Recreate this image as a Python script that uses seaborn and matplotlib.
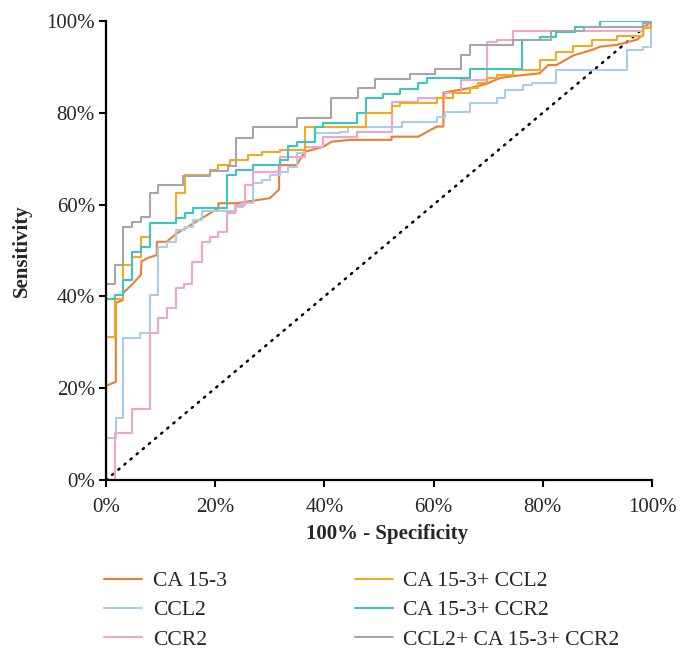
import numpy as np
import pandas as pd
import matplotlib
matplotlib.use("Agg")
import matplotlib.pyplot as plt
import seaborn as sns

# ROC curves, values in % (x = 100% - specificity, y = sensitivity)
# CA 15-3 is drawn vertex to vertex, the others as step curves (steps-post)
ca153_x = [0, 0, 1.8, 1.8, 3.1, 3.1, 4.7, 6.4, 6.5, 7.7, 9.3, 9.3, 11.1, 12.9, 14.5, 16.0, 17.2, 20.6,
           20.6, 23.9, 30.0, 31.7, 31.7, 34.9, 36.4, 39.8, 41.3, 44.7, 52.3, 52.3, 57.2, 60.6, 61.8,
           61.8, 66.7, 69.7, 72.2, 74.6, 79.4, 81.0, 82.5, 85.6, 89.0, 90.5, 93.5, 97.2, 98.4, 98.4, 100]
ca153_y = [0, 20.5, 21.4, 38.6, 39.2, 40.7, 42.5, 44.7, 47.6, 48.4, 49.0, 51.9, 51.9, 53.7, 54.8, 55.9,
           56.8, 59.2, 60.3, 60.3, 61.4, 63.3, 68.6, 68.6, 71.5, 72.6, 73.7, 74.1, 74.1, 74.8, 74.8,
           77.0, 77.0, 84.4, 85.4, 86.3, 87.6, 88.0, 88.6, 90.4, 90.4, 92.5, 93.7, 94.4, 94.8, 95.9,
           97.0, 98.5, 100]

ccl2_x = [0, 0, 1.8, 3.2, 6.3, 8.1, 9.6, 11.1, 12.9, 14.5, 16.0, 17.5, 23.9, 25.1, 27.0, 28.5, 30.0,
          31.9, 33.4, 34.9, 36.4, 38.3, 42.9, 44.4, 54.2, 60.6, 62.1, 66.7, 71.6, 73.1, 76.4, 78.0,
          82.5, 95.4, 98.4, 99.9, 100]
ccl2_y = [0, 9.2, 13.4, 31.0, 32.1, 40.3, 50.8, 51.9, 54.5, 55.2, 56.6, 58.5, 59.5, 60.4, 64.6, 65.4,
          66.4, 67.2, 68.3, 71.2, 73.7, 75.5, 75.9, 77.0, 78.1, 79.0, 80.1, 82.1, 83.2, 85.0, 86.1,
          86.4, 89.3, 93.7, 94.4, 100, 100]

ccr2_x = [0, 1.6, 4.8, 8.1, 9.6, 11.1, 12.8, 14.2, 15.8, 17.5, 19.0, 20.5, 22.1, 23.6, 25.5, 27.0,
          31.9, 36.4, 39.8, 45.9, 52.3, 57.2, 62.1, 65.1, 69.7, 71.6, 74.5, 98.4, 100]
ccr2_y = [0, 10.2, 15.4, 32.1, 35.2, 37.4, 41.8, 42.6, 47.6, 51.9, 53.0, 54.0, 58.1, 59.9, 64.3, 67.2,
          70.4, 72.6, 74.8, 75.9, 82.4, 83.2, 84.3, 87.1, 95.5, 95.9, 97.8, 98.6, 100]

ca153_ccl2_x = [0, 0, 1.6, 3.2, 4.7, 6.5, 8.1, 12.8, 14.5, 19.0, 20.5, 22.7, 26.0, 28.6, 31.9, 36.4,
                47.7, 52.3, 53.8, 60.6, 63.6, 66.7, 68.2, 69.7, 71.6, 74.6, 79.4, 82.5, 85.6, 89.0,
                93.5, 98.4, 99.9, 100]
ca153_ccl2_y = [0, 31.1, 39.4, 46.8, 48.5, 53.0, 55.9, 62.5, 66.4, 67.5, 68.6, 69.7, 70.8, 71.5, 71.9,
                77.0, 80.0, 81.4, 82.2, 83.2, 84.3, 85.4, 86.4, 87.6, 88.2, 89.3, 91.5, 93.3, 94.6,
                95.9, 96.8, 98.4, 100, 100]

ca153_ccr2_x = [0, 0, 1.6, 3.2, 4.7, 6.5, 8.1, 12.8, 14.5, 16.0, 22.1, 23.9, 27.0, 31.9, 33.4, 34.9,
                38.3, 39.8, 45.9, 47.7, 50.8, 53.8, 57.2, 58.7, 66.7, 76.1, 79.5, 82.5, 85.9, 90.5, 100]
ca153_ccr2_y = [0, 39.4, 40.3, 43.6, 49.7, 50.8, 55.9, 57.0, 58.1, 59.2, 66.4, 67.5, 68.6, 69.7, 72.8,
                73.7, 77.0, 77.8, 80.0, 83.2, 84.2, 85.1, 86.4, 87.5, 89.5, 95.9, 96.6, 97.7, 98.8,
                100, 100]

all3_x = [0, 0, 1.6, 3.2, 4.7, 6.5, 8.1, 9.6, 14.1, 19.0, 22.3, 23.9, 27.0, 34.9, 41.3, 46.2, 49.3,
          55.7, 60.3, 65.1, 66.7, 74.6, 81.5, 87.6, 98.4, 100]
all3_y = [0, 42.6, 46.8, 55.2, 56.3, 57.4, 62.5, 64.3, 66.2, 67.3, 68.4, 74.6, 76.8, 78.9, 83.2, 85.4,
          87.4, 88.5, 89.5, 92.6, 94.8, 95.8, 97.9, 98.6, 99.5, 100]

labels = ["CA 15-3", "CCL2", "CCR2", "CA 15-3+ CCL2", "CA 15-3+ CCR2", "CCL2+ CA 15-3+ CCR2"]
colors = ["#ED7D31", "#A9CDEE", "#F5A3CC", "#F7A823", "#3CC6C3", "#A6A6A6"]
series = [(ca153_x, ca153_y), (ccl2_x, ccl2_y), (ccr2_x, ccr2_y),
          (ca153_ccl2_x, ca153_ccl2_y), (ca153_ccr2_x, ca153_ccr2_y), (all3_x, all3_y)]
ticks = [0, 20, 40, 60, 80, 100]

sns.set_style("ticks")
plt.rcParams["font.family"] = ["Liberation Serif", "DejaVu Serif"]

fig = plt.figure(figsize=(6.86, 6.57), dpi=100)
ax = fig.add_axes([106 / 686, 1 - 480 / 657, 546 / 686, 459 / 657])

# reference diagonal
sns.lineplot(x=[0, 100], y=[0, 100], ax=ax, color="black", lw=1.8,
             linestyle=(0, (0.6, 2.6)), dash_capstyle="round", legend=False)

for i, ((xs, ys), lab, col) in enumerate(zip(series, labels, colors)):
    df = pd.DataFrame({"x": xs, "y": ys})
    style = "default" if i == 0 else "steps-post"
    sns.lineplot(data=df, x="x", y="y", ax=ax, color=col, lw=1.5, label=lab,
                 sort=False, estimator=None, drawstyle=style, legend=False)

ax.set_xlim(0, 100)
ax.set_ylim(0, 100)
ax.set_xticks(ticks)
ax.set_yticks(ticks)
ax.set_xticklabels([f"{t}%" for t in ticks])
ax.set_yticklabels([f"{t}%" for t in ticks])
ax.tick_params(axis="both", labelsize=15, length=5, width=1.5, color="black")
ax.tick_params(axis="x", pad=8)
ax.tick_params(axis="y", pad=3)
sns.despine(ax=ax)
for s in ["left", "bottom"]:
    ax.spines[s].set_linewidth(1.6)
    ax.spines[s].set_color("black")

ax.set_xlabel("100% - Specificity", fontsize=15, fontweight="bold", labelpad=9)
ax.xaxis.set_label_coords(0.515, -0.095)
ax.set_ylabel("Sensitivity", fontsize=15, fontweight="bold", labelpad=10)

handles = ax.get_lines()[1:]
fig.legend(handles, labels, ncol=2, frameon=False, fontsize=15.6,
           loc="upper left", bbox_to_anchor=(104 / 686, 1 - 571 / 657),
           borderpad=0, borderaxespad=0, handlelength=1.75, handletextpad=0.5,
           labelspacing=0.42, columnspacing=5.9)

fig.savefig("out.png", dpi=100)
